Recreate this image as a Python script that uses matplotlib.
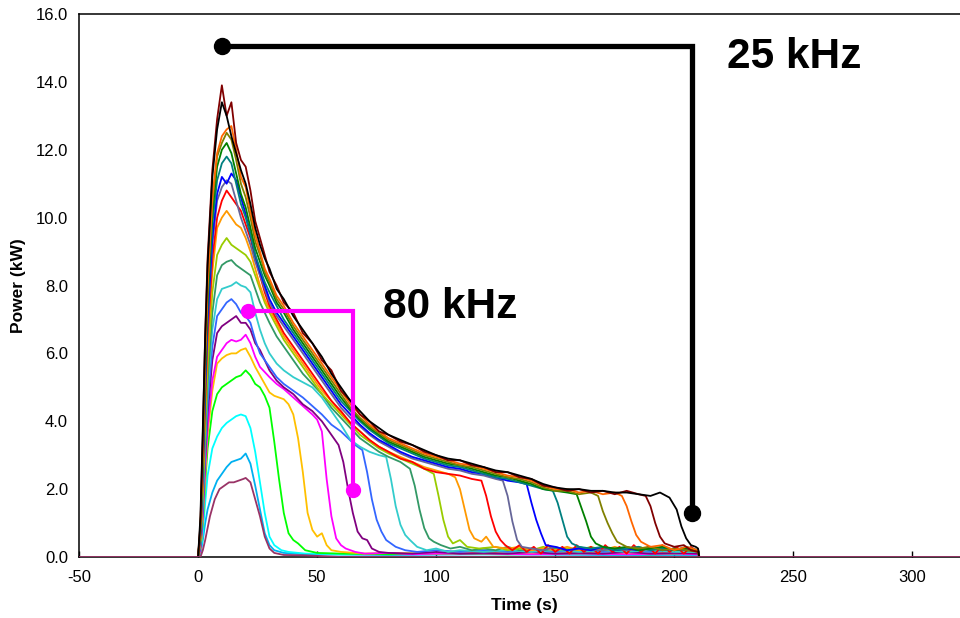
import matplotlib
matplotlib.use("Agg")
import matplotlib.pyplot as plt

plt.rcParams["font.family"] = ["Liberation Sans", "DejaVu Sans"]
plt.rcParams["axes.unicode_minus"] = False

# power traces (time s, power kW), one per run, smallest first
curve01 = [(-50, 0), (1, 0), (2, 0.2), (3, 0.5), (5, 1.2), (7, 1.7), (9, 2.0), (11, 2.1), (13, 2.2), (15, 2.2),
           (17, 2.25), (19, 2.3), (20, 2.33), (22, 2.2), (24, 1.7), (26, 1.2), (28, 0.6), (30, 0.25), (32, 0.12),
           (36, 0.06), (45, 0.05), (60, 0), (320, 0)]
curve02 = [(0, 0), (1, 0.1), (2, 0.5), (3, 1.0), (4, 1.4), (6, 1.9), (8, 2.25), (10, 2.45), (12, 2.65), (14, 2.8),
           (16, 2.85), (18, 2.9), (20, 3.05), (22, 2.75), (24, 2.1), (26, 1.4), (28, 0.7), (30, 0.35), (32, 0.2),
           (36, 0.12), (45, 0.08), (80, 0.06), (120, 0.08), (170, 0.06), (210, 0.06), (210.5, 0)]
curve03 = [(0, 0), (1, 0.1), (2, 0.7), (3, 1.6), (4, 2.4), (6, 3.2), (8, 3.55), (10, 3.8), (12, 3.95), (14, 4.05),
           (16, 4.15), (18, 4.2), (20, 4.15), (22, 3.8), (24, 3.1), (26, 2.2), (28, 1.3), (30, 0.6), (32, 0.35),
           (35, 0.2), (38, 0.15), (45, 0.1), (60, 0.08), (90, 0.1), (120, 0.08), (150, 0.1), (180, 0.08),
           (210, 0.1), (210.5, 0)]
curve04 = [(0, 0), (1, 0.2), (2, 1.0), (3, 2.2), (4, 3.2), (6, 4.3), (8, 4.8), (10, 5.0), (12, 5.1), (14, 5.2),
           (16, 5.3), (18, 5.35), (20, 5.5), (22, 5.35), (24, 5.1), (26, 5.0), (28, 4.75), (30, 4.4), (32, 3.4),
           (34, 2.3), (36, 1.3), (38, 0.7), (40, 0.5), (42, 0.4), (45, 0.2), (50, 0.12), (60, 0.1), (80, 0.08),
           (100, 0.1), (130, 0.08), (160, 0.1), (190, 0.08), (210, 0.1), (210.5, 0)]
curve05 = [(0, 0), (1, 0.2), (2, 1.1), (3, 2.4), (4, 3.6), (6, 4.9), (8, 5.7), (10, 5.85), (12, 5.95), (14, 6.0),
           (16, 6.0), (18, 6.1), (20, 6.15), (22, 5.9), (24, 5.6), (26, 5.35), (28, 5.1), (30, 4.85), (32, 4.75),
           (34, 4.7), (36, 4.65), (38, 4.5), (40, 4.2), (42, 3.5), (44, 2.5), (46, 1.3), (48, 0.8), (50, 0.6),
           (52, 0.7), (54, 0.35), (56, 0.2), (60, 0.15), (70, 0.1), (80, 0.12), (100, 0.1), (120, 0.12),
           (140, 0.1), (160, 0.12), (180, 0.1), (200, 0.12), (210, 0.1), (210.5, 0)]
curve06 = [(0, 0), (1, 0.2), (2, 1.2), (3, 2.6), (4, 3.8), (6, 5.2), (8, 5.9), (10, 6.1), (12, 6.3), (14, 6.4),
           (16, 6.35), (18, 6.4), (20, 6.55), (22, 6.3), (24, 5.9), (26, 5.6), (28, 5.45), (30, 5.3), (33, 5.1),
           (36, 4.95), (40, 4.7), (44, 4.45), (48, 4.2), (50, 4.05), (52, 3.7), (54, 2.3), (56, 1.2), (58, 0.55),
           (60, 0.35), (62, 0.25), (66, 0.15), (70, 0.1), (80, 0.12), (90, 0.08), (100, 0.1), (120, 0.1),
           (140, 0.08), (160, 0.1), (180, 0.08), (200, 0.1), (210, 0.08), (210.5, 0)]
curve07 = [(0, 0), (1, 0.3), (2, 1.4), (3, 2.9), (4, 4.2), (6, 5.8), (8, 6.6), (10, 6.8), (12, 6.9), (14, 7.0),
           (16, 7.1), (18, 6.9), (20, 6.9), (22, 6.7), (24, 6.3), (26, 6.1), (28, 5.8), (30, 5.5), (33, 5.2),
           (36, 5.0), (40, 4.8), (44, 4.5), (48, 4.3), (52, 4.0), (56, 3.6), (59, 3.3), (61, 2.8), (63, 2.0),
           (65, 1.3), (67, 0.75), (69, 0.55), (71, 0.5), (73, 0.25), (76, 0.15), (80, 0.12), (90, 0.1),
           (100, 0.15), (110, 0.1), (120, 0.12), (130, 0.1), (140, 0.15), (150, 0.1), (160, 0.12), (170, 0.1),
           (180, 0.15), (190, 0.1), (200, 0.12), (210, 0.1), (210.5, 0)]
curve08 = [(0, 0), (1, 0.3), (2, 1.5), (3, 3.1), (4, 4.5), (6, 6.2), (8, 7.1), (10, 7.3), (12, 7.5), (14, 7.6),
           (16, 7.45), (18, 7.2), (20, 7.1), (22, 6.9), (24, 6.4), (26, 6.0), (28, 5.8), (30, 5.6), (33, 5.3),
           (36, 5.1), (40, 4.9), (44, 4.7), (48, 4.45), (52, 4.2), (56, 3.9), (60, 3.7), (63, 3.5), (66, 3.3),
           (69, 3.15), (71, 2.5), (73, 1.7), (75, 1.1), (77, 0.75), (79, 0.5), (81, 0.4), (83, 0.3), (87, 0.2),
           (92, 0.15), (100, 0.2), (110, 0.15), (120, 0.2), (130, 0.15), (140, 0.2), (150, 0.15), (160, 0.2),
           (170, 0.15), (180, 0.2), (190, 0.15), (200, 0.2), (210, 0.15), (210.5, 0)]
curve09 = [(0, 0), (1, 0.4), (2, 1.7), (3, 3.4), (4, 4.9), (6, 6.7), (8, 7.6), (10, 7.9), (12, 7.95), (14, 8.0),
           (16, 8.1), (18, 8.0), (20, 7.95), (22, 7.8), (24, 7.2), (26, 6.7), (28, 6.3), (30, 6.0), (33, 5.7),
           (36, 5.5), (40, 5.3), (44, 5.15), (48, 5.0), (52, 4.7), (56, 4.3), (60, 3.9), (64, 3.45), (68, 3.25),
           (72, 3.1), (76, 3.0), (79, 2.95), (81, 2.3), (83, 1.5), (85, 0.95), (87, 0.65), (89, 0.5), (92, 0.3),
           (96, 0.2), (100, 0.25), (105, 0.15), (110, 0.2), (120, 0.15), (130, 0.2), (140, 0.15), (150, 0.2),
           (160, 0.15), (170, 0.2), (180, 0.15), (190, 0.2), (200, 0.15), (210, 0.15), (210.5, 0)]
curve10 = [(0, 0), (1, 0.4), (2, 1.8), (3, 3.6), (4, 5.2), (6, 7.2), (8, 8.3), (10, 8.6), (12, 8.7), (14, 8.75),
           (16, 8.6), (18, 8.5), (20, 8.4), (22, 8.3), (24, 7.9), (26, 7.5), (28, 7.2), (30, 6.9), (33, 6.5),
           (36, 6.2), (40, 5.8), (44, 5.4), (48, 5.1), (52, 4.8), (56, 4.4), (60, 4.1), (64, 3.8), (68, 3.5),
           (72, 3.3), (76, 3.1), (80, 2.95), (85, 2.8), (89, 2.6), (91, 2.1), (93, 1.4), (95, 0.85), (97, 0.55),
           (99, 0.45), (102, 0.35), (106, 0.25), (110, 0.3), (115, 0.2), (120, 0.25), (125, 0.2), (130, 0.3),
           (135, 0.2), (140, 0.25), (145, 0.2), (150, 0.25), (155, 0.2), (160, 0.3), (165, 0.2), (170, 0.25),
           (175, 0.2), (180, 0.25), (185, 0.2), (190, 0.3), (195, 0.2), (200, 0.25), (205, 0.2), (210, 0.2),
           (210.5, 0)]
curve11 = [(0, 0), (1, 0.5), (2, 2.0), (3, 3.9), (4, 5.6), (6, 7.8), (8, 8.9), (10, 9.2), (12, 9.4), (14, 9.2),
           (16, 9.1), (18, 9.0), (20, 8.9), (22, 8.7), (24, 8.3), (26, 7.9), (28, 7.5), (30, 7.2), (33, 6.8),
           (36, 6.4), (40, 6.0), (44, 5.6), (48, 5.2), (52, 4.8), (56, 4.5), (60, 4.2), (64, 3.9), (68, 3.6),
           (72, 3.4), (76, 3.2), (80, 3.05), (85, 2.9), (90, 2.75), (95, 2.6), (99, 2.45), (101, 1.8), (103, 1.1),
           (105, 0.6), (107, 0.4), (110, 0.5), (113, 0.3), (118, 0.25), (125, 0.3), (130, 0.2), (135, 0.25),
           (140, 0.2), (145, 0.3), (150, 0.2), (155, 0.25), (160, 0.2), (165, 0.3), (170, 0.2), (175, 0.25),
           (180, 0.2), (185, 0.3), (190, 0.2), (195, 0.25), (200, 0.2), (205, 0.25), (210, 0.2), (210.5, 0)]
curve12 = [(0, 0), (1, 0.5), (2, 2.2), (3, 4.3), (4, 6.1), (6, 8.4), (8, 9.7), (10, 10.0), (12, 10.2), (14, 10.0),
           (16, 9.8), (18, 9.7), (20, 9.4), (22, 9.0), (24, 8.5), (26, 8.0), (28, 7.6), (30, 7.3), (33, 6.9),
           (36, 6.5), (40, 6.1), (44, 5.7), (48, 5.3), (52, 4.9), (56, 4.6), (60, 4.25), (64, 3.95), (68, 3.7),
           (72, 3.45), (76, 3.25), (80, 3.1), (85, 2.95), (90, 2.8), (95, 2.65), (100, 2.55), (105, 2.45),
           (108, 2.35), (110, 2.0), (112, 1.4), (114, 0.8), (116, 0.55), (119, 0.45), (121, 0.6), (124, 0.3),
           (130, 0.25), (135, 0.3), (140, 0.2), (145, 0.25), (150, 0.2), (155, 0.3), (160, 0.2), (165, 0.25),
           (170, 0.2), (175, 0.3), (180, 0.2), (185, 0.25), (190, 0.3), (195, 0.2), (200, 0.25), (205, 0.2),
           (210, 0.2), (210.5, 0)]
curve13 = [(0, 0), (1, 0.6), (2, 2.4), (3, 4.6), (4, 6.5), (6, 8.8), (8, 10.0), (10, 10.5), (12, 10.8), (14, 10.6),
           (16, 10.4), (18, 10.2), (20, 9.8), (22, 9.4), (24, 8.8), (26, 8.3), (28, 7.8), (30, 7.4), (33, 7.0),
           (36, 6.6), (40, 6.2), (44, 5.8), (48, 5.4), (52, 5.0), (56, 4.6), (60, 4.3), (64, 3.95), (68, 3.7),
           (72, 3.45), (76, 3.25), (80, 3.1), (85, 2.9), (90, 2.8), (95, 2.6), (100, 2.5), (105, 2.45), (110, 2.4),
           (115, 2.3), (119, 2.25), (121, 1.8), (123, 1.2), (125, 0.75), (127, 0.5), (129, 0.35), (132, 0.2),
           (135, 0.35), (138, 0.15), (141, 0.3), (144, 0.1), (147, 0.35), (150, 0.15), (153, 0.3), (156, 0.1),
           (159, 0.35), (162, 0.15), (165, 0.3), (168, 0.1), (171, 0.35), (174, 0.15), (177, 0.3), (180, 0.1),
           (183, 0.35), (186, 0.15), (189, 0.3), (192, 0.1), (195, 0.35), (198, 0.15), (201, 0.3), (204, 0.1),
           (207, 0.3), (210, 0.15), (210.5, 0)]
curve14 = [(0, 0), (1, 0.6), (2, 2.5), (3, 4.8), (4, 6.8), (6, 9.2), (8, 10.5), (10, 10.9), (12, 11.1), (14, 11.0),
           (16, 10.5), (18, 10.0), (20, 9.6), (22, 9.2), (24, 8.7), (26, 8.3), (28, 7.9), (30, 7.5), (33, 7.1),
           (36, 6.8), (40, 6.4), (44, 6.0), (48, 5.6), (52, 5.2), (56, 4.8), (60, 4.4), (64, 4.1), (68, 3.85),
           (72, 3.6), (76, 3.4), (80, 3.25), (85, 3.05), (90, 2.9), (95, 2.8), (100, 2.7), (105, 2.6), (110, 2.55),
           (115, 2.45), (120, 2.4), (125, 2.3), (128, 2.25), (130, 1.8), (132, 1.05), (134, 0.5), (136, 0.3),
           (140, 0.25), (145, 0.2), (150, 0.3), (155, 0.2), (160, 0.25), (165, 0.2), (170, 0.2), (175, 0.25),
           (180, 0.2), (185, 0.25), (190, 0.2), (195, 0.3), (200, 0.2), (205, 0.25), (210, 0.2), (210.5, 0)]
curve15 = [(0, 0), (1, 0.7), (2, 2.6), (3, 5.0), (4, 7.0), (6, 9.4), (8, 10.7), (10, 11.2), (12, 11.0), (14, 11.3),
           (16, 11.1), (18, 10.6), (20, 10.1), (22, 9.5), (24, 8.9), (26, 8.4), (28, 8.0), (30, 7.6), (33, 7.2),
           (36, 6.9), (40, 6.5), (44, 6.1), (48, 5.7), (52, 5.3), (56, 4.9), (60, 4.5), (64, 4.2), (68, 3.9),
           (72, 3.65), (76, 3.45), (80, 3.3), (85, 3.1), (90, 2.95), (95, 2.85), (100, 2.75), (105, 2.65),
           (110, 2.6), (115, 2.5), (120, 2.45), (125, 2.35), (130, 2.25), (135, 2.2), (138, 2.15), (140, 1.6),
           (142, 1.1), (144, 0.7), (146, 0.35), (150, 0.3), (155, 0.2), (160, 0.25), (165, 0.2), (170, 0.3),
           (175, 0.2), (180, 0.25), (185, 0.2), (190, 0.3), (195, 0.2), (200, 0.25), (205, 0.2), (210, 0.2),
           (210.5, 0)]
curve16 = [(0, 0), (1, 0.7), (2, 2.8), (3, 5.3), (4, 7.4), (6, 9.8), (8, 11.1), (10, 11.6), (12, 11.8), (14, 11.6),
           (16, 11.0), (18, 10.4), (20, 10.0), (22, 9.5), (24, 8.9), (26, 8.5), (28, 8.1), (30, 7.8), (33, 7.4),
           (36, 7.0), (40, 6.6), (44, 6.2), (48, 5.8), (52, 5.4), (56, 5.0), (60, 4.6), (64, 4.3), (68, 4.0),
           (72, 3.75), (76, 3.55), (80, 3.35), (85, 3.2), (90, 3.05), (95, 2.9), (100, 2.8), (105, 2.7),
           (110, 2.65), (115, 2.55), (120, 2.45), (125, 2.35), (130, 2.3), (135, 2.2), (140, 2.1), (145, 2.0),
           (149, 1.95), (151, 1.6), (153, 1.1), (155, 0.6), (157, 0.4), (160, 0.3), (165, 0.25), (170, 0.3),
           (175, 0.2), (180, 0.25), (185, 0.3), (190, 0.2), (195, 0.25), (200, 0.2), (205, 0.3), (210, 0.2),
           (210.5, 0)]
curve17 = [(0, 0), (1, 0.8), (2, 2.9), (3, 5.5), (4, 7.6), (6, 10.1), (8, 11.5), (10, 12.0), (12, 12.2), (14, 11.9),
           (16, 11.3), (18, 10.7), (20, 10.3), (22, 9.7), (24, 9.1), (26, 8.7), (28, 8.3), (30, 8.0), (33, 7.5),
           (36, 7.2), (40, 6.7), (44, 6.3), (48, 5.9), (52, 5.5), (56, 5.1), (60, 4.7), (64, 4.35), (68, 4.05),
           (72, 3.8), (76, 3.6), (80, 3.4), (85, 3.25), (90, 3.1), (95, 2.95), (100, 2.85), (105, 2.75),
           (110, 2.7), (115, 2.6), (120, 2.5), (125, 2.4), (130, 2.35), (135, 2.25), (140, 2.15), (145, 2.0),
           (150, 1.95), (155, 1.9), (159, 1.85), (161, 1.45), (163, 1.05), (165, 0.6), (167, 0.4), (170, 0.3),
           (175, 0.25), (180, 0.3), (185, 0.2), (190, 0.25), (195, 0.3), (200, 0.2), (205, 0.25), (210, 0.2),
           (210.5, 0)]
curve18 = [(0, 0), (1, 0.8), (2, 3.0), (3, 5.8), (4, 7.9), (6, 10.4), (8, 11.8), (10, 12.2), (12, 12.5), (14, 12.3),
           (16, 11.7), (18, 11.0), (20, 10.6), (22, 10.0), (24, 9.3), (26, 8.9), (28, 8.4), (30, 8.1), (33, 7.6),
           (36, 7.3), (40, 6.8), (44, 6.4), (48, 6.0), (52, 5.6), (56, 5.2), (60, 4.8), (64, 4.4), (68, 4.1),
           (72, 3.85), (76, 3.65), (80, 3.45), (85, 3.3), (90, 3.15), (95, 3.0), (100, 2.9), (105, 2.8),
           (110, 2.7), (115, 2.65), (120, 2.55), (125, 2.45), (130, 2.35), (135, 2.3), (140, 2.2), (145, 2.05),
           (150, 1.95), (155, 1.95), (160, 1.85), (165, 1.9), (168, 1.8), (170, 1.35), (172, 1.0), (174, 0.7),
           (176, 0.45), (180, 0.3), (185, 0.25), (190, 0.3), (195, 0.2), (200, 0.25), (205, 0.2), (210, 0.15),
           (210.5, 0)]
curve19 = [(0, 0), (1, 0.9), (2, 3.3), (3, 6.0), (4, 8.0), (6, 10.6), (8, 11.9), (10, 12.4), (12, 12.6), (14, 12.7),
           (16, 12.0), (18, 11.2), (20, 10.9), (22, 10.2), (24, 9.5), (26, 9.0), (28, 8.5), (30, 8.2), (33, 7.7),
           (36, 7.4), (40, 6.9), (44, 6.5), (48, 6.1), (52, 5.7), (56, 5.3), (60, 4.9), (64, 4.5), (68, 4.2),
           (72, 3.9), (76, 3.7), (80, 3.5), (85, 3.35), (90, 3.2), (95, 3.05), (100, 2.95), (105, 2.85),
           (110, 2.75), (115, 2.7), (120, 2.6), (125, 2.5), (130, 2.4), (135, 2.35), (140, 2.25), (145, 2.1),
           (150, 2.0), (155, 2.0), (160, 1.9), (165, 1.95), (170, 1.85), (175, 1.9), (178, 1.8), (180, 1.5),
           (182, 1.05), (184, 0.65), (186, 0.45), (190, 0.3), (195, 0.35), (200, 0.2), (205, 0.3), (210, 0.2),
           (210.5, 0)]
curve20 = [(0, 0), (1, 1.0), (2, 3.6), (3, 6.6), (4, 8.8), (6, 11.4), (8, 12.9), (10, 13.9), (12, 13.0), (14, 13.4),
           (16, 12.2), (18, 11.7), (20, 11.5), (22, 10.8), (24, 9.9), (26, 9.4), (28, 8.9), (30, 8.4), (33, 8.0),
           (36, 7.5), (40, 7.2), (44, 6.6), (48, 6.3), (52, 5.8), (56, 5.5), (60, 4.9), (64, 4.6), (68, 4.2),
           (72, 4.0), (76, 3.7), (80, 3.6), (85, 3.4), (90, 3.3), (95, 3.1), (100, 3.0), (105, 2.85), (110, 2.85),
           (115, 2.7), (120, 2.65), (125, 2.5), (130, 2.5), (135, 2.35), (140, 2.3), (145, 2.1), (150, 2.05),
           (155, 1.95), (160, 2.0), (165, 1.9), (170, 1.95), (175, 1.85), (180, 1.95), (185, 1.85), (188, 1.8),
           (190, 1.5), (192, 1.0), (194, 0.6), (196, 0.4), (200, 0.3), (204, 0.35), (207, 0.2), (210, 0.15),
           (210.5, 0)]
curve21 = [(0, 0), (1, 1.2), (2, 3.8), (3, 6.5), (4, 8.6), (6, 11.2), (8, 12.6), (10, 13.4), (12, 13.0), (14, 12.4),
           (16, 11.9), (18, 11.4), (20, 11.0), (22, 10.4), (24, 9.7), (26, 9.2), (28, 8.8), (30, 8.5), (33, 7.9),
           (36, 7.6), (40, 7.1), (44, 6.7), (48, 6.3), (52, 5.9), (56, 5.4), (60, 5.0), (64, 4.6), (68, 4.3),
           (72, 4.0), (76, 3.8), (80, 3.6), (85, 3.45), (90, 3.3), (95, 3.15), (100, 3.0), (105, 2.9), (110, 2.85),
           (115, 2.75), (120, 2.65), (125, 2.55), (130, 2.5), (135, 2.4), (140, 2.3), (145, 2.15), (150, 2.05),
           (155, 2.0), (160, 2.0), (165, 1.95), (170, 1.95), (175, 1.9), (180, 1.9), (185, 1.85), (190, 1.8),
           (194, 1.9), (198, 1.75), (201, 1.4), (203, 0.9), (205, 0.55), (207, 0.35), (209, 0.3), (210, 0.25),
           (210.5, 0)]

curveColors = ["#993366", "#00B0F0", "#00FFFF", "#00FF00", "#FFC000", "#FF00FF", "#800080",
               "#3366FF", "#33CCCC", "#339966", "#99CC00", "#FF9900", "#FF0000", "#666699",
               "#0000FF", "#008080", "#008000", "#808000", "#FF6600", "#800000", "#000000"]

# bracket annotations: (time, power) corners
bracket25 = [(10, 15.05), (207.6, 15.05), (207.6, 1.3)]
bracket80 = [(21, 7.26), (65.1, 7.26), (65.1, 1.98)]

xTicks = [-50, 0, 50, 100, 150, 200, 250, 300]
yTicks = [0, 2, 4, 6, 8, 10, 12, 14, 16]


def main() -> None :
    allCurves = [curve01, curve02, curve03, curve04, curve05, curve06, curve07, curve08, curve09, curve10,
                 curve11, curve12, curve13, curve14, curve15, curve16, curve17, curve18, curve19, curve20, curve21]

    fig = plt.figure(figsize=(9.6, 6.18), dpi=100)
    ax = fig.add_axes([0.0823, 0.0987, 0.9177, 0.8786])

    for index, (curve, color) in enumerate(zip(allCurves, curveColors)) :
        times = [point[0] for point in curve]
        powers = [point[1] for point in curve]
        # smallest trace carries the zero baseline, keep it on top
        zorder = 3 if index == 0 else 2
        ax.plot(times, powers, color=color, linewidth=1.3, zorder=zorder)

    for bracket, color, lineWidth, markerSize in [(bracket25, "black", 3.8, 11.5), (bracket80, "#FF00FF", 3.0, 10)] :
        ax.plot([p[0] for p in bracket], [p[1] for p in bracket], color=color, linewidth=lineWidth,
                marker="o", markersize=markerSize, markevery=[0, 2], solid_joinstyle="miter", zorder=4)

    ax.text(222.3, 14.42, "25 kHz", fontsize=30.5, fontweight="bold", ha="left", va="baseline")
    ax.text(77.7, 7.05, "80 kHz", fontsize=30.5, fontweight="bold", ha="left", va="baseline")

    ax.set_xlim(-50, 320)
    ax.set_ylim(0, 16)
    ax.set_xticks(xTicks)
    ax.set_yticks(yTicks)
    ax.set_yticklabels([f"{v:.1f}" for v in yTicks])
    ax.tick_params(axis="x", direction="in", length=4, width=1, labelsize=12, pad=9)
    ax.tick_params(axis="y", length=0, labelsize=12, pad=8)

    for side in ["left", "bottom", "top"] :
        ax.spines[side].set_linewidth(1.1)
        ax.spines[side].set_color("black")
    ax.spines["right"].set_visible(False)

    ax.set_xlabel("Time (s)", fontsize=12.5, fontweight="bold")
    ax.set_ylabel("Power (kW)", fontsize=12.5, fontweight="bold")
    ax.xaxis.set_label_coords(0.506, -0.075)
    ax.yaxis.set_label_coords(-0.06, 0.5)

    fig.savefig("out.png", dpi=100)


if __name__ == "__main__" :
    main()
